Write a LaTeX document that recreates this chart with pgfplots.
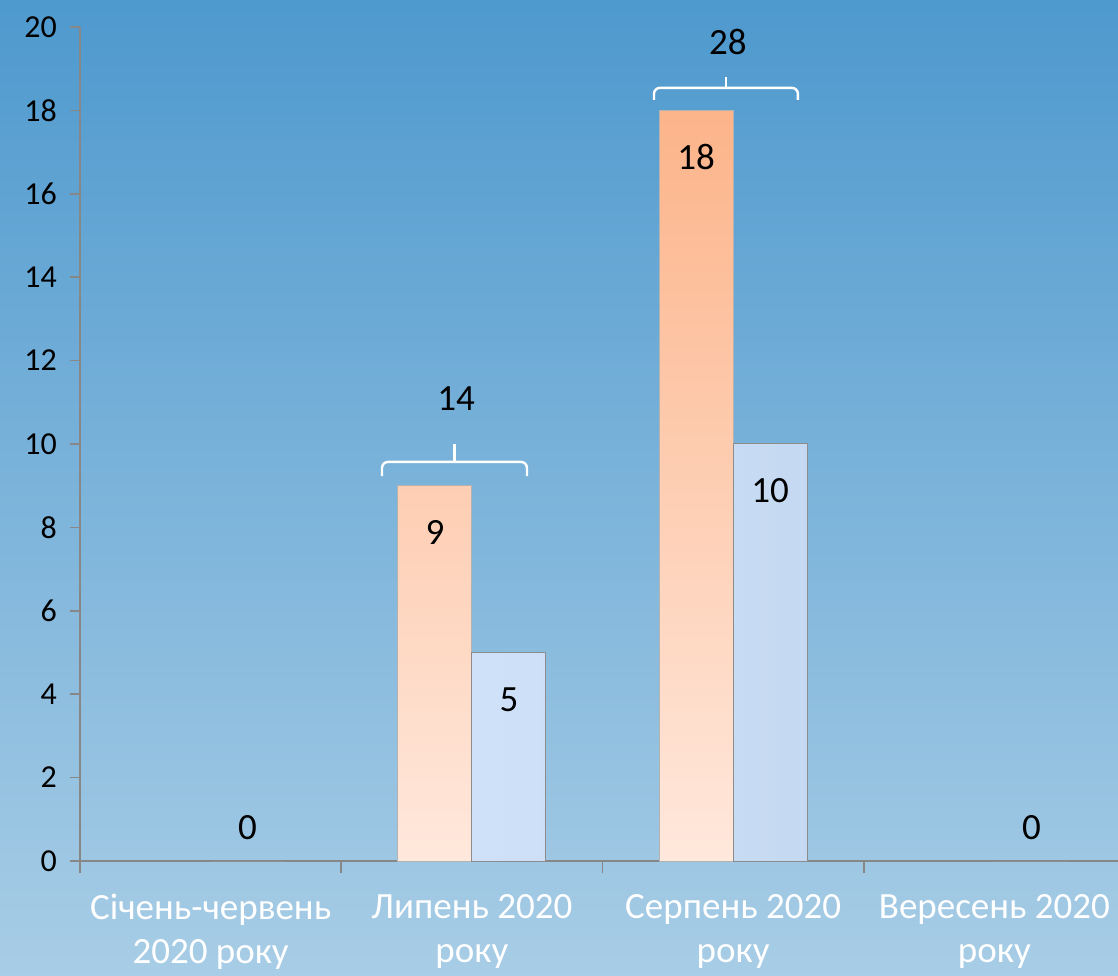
\documentclass[border=0pt]{standalone}
\usepackage{fontspec}
\setmainfont{Carlito}
\usepackage{pgfplots}
\pgfplotsset{compat=1.18}
\definecolor{bgtop}{RGB}{78,153,206}
\definecolor{bgbot}{RGB}{168,205,230}
\definecolor{axgray}{RGB}{135,135,135}
\definecolor{ortop}{RGB}{252,180,138}
\definecolor{orbot}{RGB}{255,232,220}
\definecolor{bltop}{RGB}{214,232,254}
\definecolor{blbot}{RGB}{190,210,236}

\begin{document}
\begin{tikzpicture}
\useasboundingbox (0,0) rectangle (559pt,487.5pt);
\shade[top color=bgtop, bottom color=bgbot] (0,0) rectangle (559pt,487.5pt);

\begin{axis}[
    at={(40pt,57pt)}, anchor=south west,
    scale only axis,
    width=522.5pt, height=417pt,
    xmin=-0.5, xmax=3.5,
    ymin=0, ymax=20,
    ytick={0,2,...,20},
    xtick={0,1,2,3},
    xticklabels={Січень-червень\\2020 року, Липень 2020\\року, Серпень 2020\\року, Вересень 2020\\року},
    minor xtick={-0.5,0.5,1.5,2.5,3.5},
    major x tick style={draw=none},
    tick align=outside,
    major tick length=5pt,
    minor tick length=6pt,
    tick style={axgray, line width=0.8pt},
    axis x line*=bottom,
    axis y line*=left,
    axis line style={axgray, line width=1pt},
    /pgf/number format/assume math mode=true,
    yticklabel style={font=\fontsize{16}{18}\selectfont, text=black, xshift=-3pt},
    xticklabel style={font=\fontsize{18.5}{22}\selectfont, text=white, align=center, yshift=-8pt},
    ybar=0pt,
    bar width=37pt,
    clip=false,
    nodes near coords,
    visualization depends on={y \as \rawy},
    every node near coord/.append style={font=\fontsize{18.5}{22}\selectfont, text=black, anchor=center,
        yshift={ifthenelse(\rawy==0,16.5,-23.5)}},
]
% orange series
\addplot[draw=black!30, line width=0.5pt, top color=ortop, bottom color=orbot]
    coordinates {(1,9) (2,18)};
% light blue series
\addplot[draw=black!45, line width=0.5pt, left color=bltop, right color=blbot]
    coordinates {(0,0) (1,5) (2,10) (3,0)};

% group braces and totals
\draw[white, line width=1.2pt, rounded corners=3pt]
    (axis cs:0.656,9.23) -- (axis cs:0.656,9.57) -- (axis cs:1.211,9.57) -- (axis cs:1.211,9.23);
\draw[white, line width=1.2pt] (axis cs:0.933,9.57) -- (axis cs:0.933,10.0);
\node[font=\fontsize{18.5}{22}\selectfont] at (axis cs:0.94,11.1) {14};
\draw[white, line width=1.2pt, rounded corners=3pt]
    (axis cs:1.697,18.25) -- (axis cs:1.697,18.54) -- (axis cs:2.248,18.54) -- (axis cs:2.248,18.25);
\draw[white, line width=1.2pt] (axis cs:1.973,18.54) -- (axis cs:1.973,18.8);
\node[font=\fontsize{18.5}{22}\selectfont] at (axis cs:1.98,19.64) {28};
\end{axis}
\end{tikzpicture}
\end{document}
